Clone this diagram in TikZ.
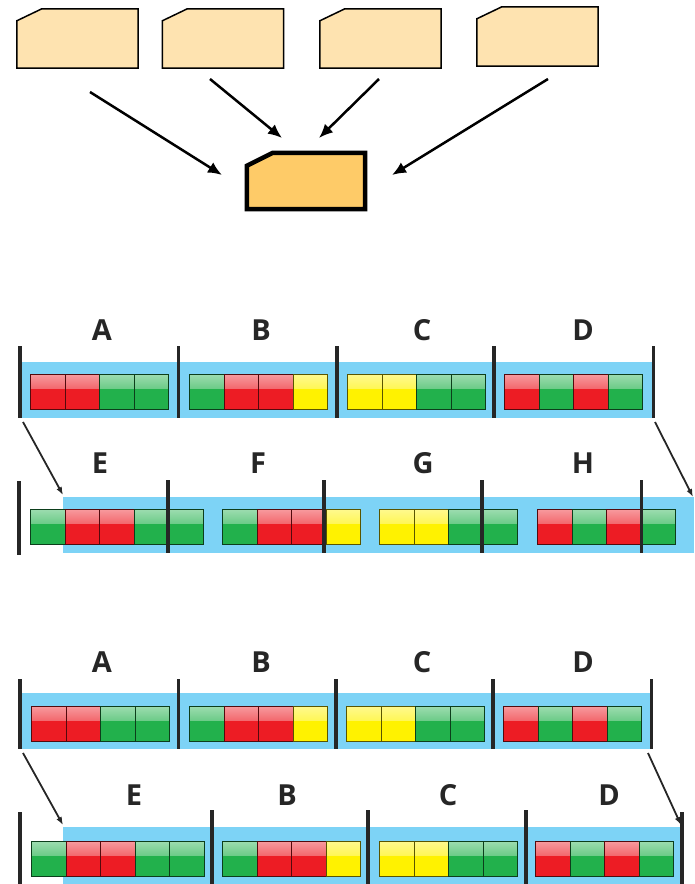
\documentclass[tikz,border=0pt]{standalone}
\usepackage{fontspec}
\setsansfont{Open Sans}
\usetikzlibrary{positioning, arrows.meta}

\definecolor{rojo}{RGB}{237,28,36}
\definecolor{verde}{RGB}{34,177,76}
\definecolor{amarillo}{RGB}{255,242,0}
\definecolor{celeste}{RGB}{125,211,246}
\definecolor{crema}{RGB}{254,227,176}
\definecolor{naranja}{RGB}{254,203,104}

\begin{document}
\begin{tikzpicture}[
    x=1pt, y=-1pt,
    tarjeta/.style={
        rectangle,
        inner sep=0pt,
        minimum width=121pt,
        minimum height=59pt,
    },
    tarjeta_final/.style={tarjeta, minimum width=118pt, minimum height=56pt},
    borde/.style={draw=black, fill=crema, line width=1.5pt}, % contorno de las tarjetas
    borde_final/.style={borde, fill=naranja, line width=4.5pt},
    celda/.style={
        draw=#1!35!black,
        fill=#1,
        line width=1.3pt,
        inner sep=0pt,
        minimum width=34.5pt,
        minimum height=35pt,
        anchor=north west,
        path picture={\shade[top color=#1!45!white, bottom color=#1]
            (path picture bounding box.north west) rectangle ([yshift=-14pt]path picture bounding box.north east);},
    },
    letra/.style={font=\sffamily\bfseries\fontsize{29}{31}\selectfont, text=black!85},
    barra/.style={line width=4.5pt, draw=black!85},
    barra_fina/.style={line width=3pt, draw=black!85},
    arr/.style={-{Latex[length=14pt, width=12pt]}, line width=2.5pt},
    arr_fina/.style={-{Latex[length=8pt, width=6pt]}, line width=1.8pt, draw=black!85}
]
\useasboundingbox (0,0) rectangle (694,884);

% Tarjetas
\node[tarjeta] (t1) at (77.5,38.5) {};
\node[tarjeta] (t2) at (223,38.5) {};
\node[tarjeta] (t3) at (380.5,38.5) {};
\node[tarjeta] (t4) at (537.5,36.5) {};
\node[tarjeta_final] (destino) at (306,181) {};
\foreach \t in {t1,t2,t3,t4}
    \draw[borde] ([xshift=25pt]\t.north west) -- (\t.north east) -- (\t.south east)
        -- (\t.south west) -- ([yshift=-12pt]\t.north west) -- cycle;
\draw[borde_final] ([xshift=26pt]destino.north west) -- (destino.north east) -- (destino.south east)
    -- (destino.south west) -- ([yshift=-13pt]destino.north west) -- cycle;

\coordinate (s1) at (90,92);
\coordinate (s2) at (210,79);
\coordinate (s3) at (379,79);
\coordinate (s4) at (548,79);
\coordinate (e1) at (222,175);
\coordinate (e2) at (282,138);
\coordinate (e3) at (319,138);
\coordinate (e4) at (392,175);

% Conexiones
\foreach \i in {1,...,4}
    \draw[arr] (s\i) -- (e\i);

% Primera parte: fila 1
\fill[celeste] (20,362) rectangle (654,418);
\foreach \g/\gx/\cols in {A/30/{rojo,rojo,verde,verde}, B/189/{verde,rojo,rojo,amarillo},
                          C/347/{amarillo,amarillo,verde,verde}, D/504/{rojo,verde,rojo,verde}}{
    \foreach \col [count=\i from 0] in \cols
        \node[celda=\col] (p1\g\i) at (\gx+34.5*\i,374) {};
}
\node[letra] (p1A) at (102,330) {A};
\node[letra] (p1B) at (261,330) {B};
\node[letra] (p1C) at (422,330) {C};
\node[letra] (p1D) at (583,330) {D};
\draw[barra] (20,346) -- (20,418);
\draw[barra_fina] (178,346) -- (178,418);
\draw[barra] (337,346) -- (337,418);
\draw[barra] (494,346) -- (494,418);
\draw[barra_fina] (653,346) -- (653,418);

% Primera parte: fila 2
\fill[celeste] (63,497) rectangle (694,553);
\foreach \g/\gx/\cols in {E/30/{verde,rojo,rojo,verde,verde}, F/222/{verde,rojo,rojo,amarillo},
                          G/379/{amarillo,amarillo,verde,verde}, H/537/{rojo,verde,rojo,verde}}{
    \foreach \col [count=\i from 0] in \cols
        \node[celda=\col] (p2\g\i) at (\gx+34.5*\i,509) {};
}
\node[letra] (p2E) at (100,463) {E};
\node[letra] (p2F) at (258,463) {F};
\node[letra] (p2G) at (423,463) {G};
\node[letra] (p2H) at (583,463) {H};
\draw[barra] (19,481) -- (19,555);
\draw[barra] (168,480) -- (168,553);
\draw[barra] (324,480) -- (324,553);
\draw[barra] (482,480) -- (482,553);
\draw[barra_fina] (641,480) -- (641,553);

\coordinate (p1izq) at (23,422);
\coordinate (p1der) at (655,422);
\coordinate (p2izq) at (63,495);
\coordinate (p2der) at (693,497);
\draw[arr_fina] (p1izq) -- (p2izq);
\draw[arr_fina] (p1der) -- (p2der);

% Segunda parte: fila 1
\fill[celeste] (20,693) rectangle (652,749);
\foreach \g/\gx/\cols in {A/31/{rojo,rojo,verde,verde}, B/189/{verde,rojo,rojo,amarillo},
                          C/346/{amarillo,amarillo,verde,verde}, D/503/{rojo,verde,rojo,verde}}{
    \foreach \col [count=\i from 0] in \cols
        \node[celda=\col] (p3\g\i) at (\gx+34.5*\i,706) {};
}
\node[letra] (p3A) at (102,662) {A};
\node[letra] (p3B) at (261,662) {B};
\node[letra] (p3C) at (422,662) {C};
\node[letra] (p3D) at (583,662) {D};
\draw[barra] (20,679) -- (20,749);
\draw[barra_fina] (178,679) -- (178,749);
\draw[barra] (336,679) -- (336,749);
\draw[barra] (493,679) -- (493,749);
\draw[barra_fina] (651,679) -- (651,749);

% Segunda parte: fila 2
\fill[celeste] (63,827) rectangle (682,884);
\foreach \g/\gx/\cols in {E/31/{verde,rojo,rojo,verde,verde}, B/222/{verde,rojo,rojo,amarillo},
                          C/379/{amarillo,amarillo,verde,verde}, D/535/{rojo,verde,rojo,verde}}{
    \foreach \col [count=\i from 0] in \cols
        \node[celda=\col] (p4\g\i) at (\gx+34.5*\i,841) {};
}
\node[letra] (p4E) at (134,795) {E};
\node[letra] (p4B) at (287,795) {B};
\node[letra] (p4C) at (448,795) {C};
\node[letra] (p4D) at (609,795) {D};
\draw[barra] (20,812) -- (20,884);
\draw[barra] (212,810) -- (212,884);
\draw[barra] (368,810) -- (368,884);
\draw[barra] (526,810) -- (526,884);
\draw[barra] (682,812) -- (682,884);

\coordinate (p3izq) at (23,753);
\coordinate (p3der) at (648,753);
\coordinate (p4izq) at (63,825);
\coordinate (p4der) at (681,825);
\draw[arr_fina] (p3izq) -- (p4izq);
\draw[arr_fina] (p3der) -- (p4der);

\end{tikzpicture}
\end{document}
